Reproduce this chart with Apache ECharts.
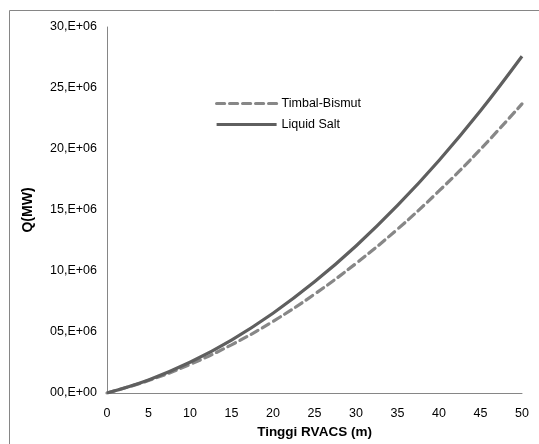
<!DOCTYPE html>
<html>
<head>
<meta charset="utf-8">
<script src="https://cdn.jsdelivr.net/npm/echarts@6/dist/echarts.min.js"></script>
<style>
html,body{margin:0;padding:0;background:#fff;}
#chart{width:539px;height:444px;}
</style>
</head>
<body>
<div id="chart"></div>
<script>
// Tinggi RVACS (m)
var heights = [0, 5, 10, 15, 20, 25, 30, 35, 40, 45, 50];
// Q in units of 1E+06
var timbalBismut = [0, 1.02, 2.34, 3.95, 5.87, 8.10, 10.62, 13.43, 16.56, 19.98, 23.7];
var liquidSalt   = [0, 1.07, 2.52, 4.34, 6.54, 9.11, 12.05, 15.37, 19.06, 23.13, 27.6];
var yTickValues  = [0, 5, 10, 15, 20, 25, 30];
var seriesNames  = ['Timbal-Bismut', 'Liquid Salt'];

function pairs(xs, ys) { return xs.map(function (x, i) { return [x, ys[i]]; }); }
function yLabel(v) {
  if (v === 0) return '00,E+00';
  var s = String(Math.round(v));
  if (s.length < 2) s = '0' + s;
  return s + ',E+06';
}

var chart = echarts.init(document.getElementById('chart'), null, {renderer: 'canvas'});
var font = 'Liberation Sans, Arial, sans-serif';
chart.setOption({
  animation: false,
  backgroundColor: '#fff',
  textStyle: {fontFamily: font},
  graphic: [{
    type: 'rect', silent: true,
    shape: {x: 9.5, y: 10.5, width: 700, height: 700},
    style: {fill: 'none', stroke: '#868686', lineWidth: 1}
  }],
  grid: {left: 107, right: 17, top: 27, bottom: 51, containLabel: false},
  legend: {
    orient: 'vertical', left: 215, top: 97, padding: 0,
    itemWidth: 60, itemHeight: 12, itemGap: 8, itemStyle: {opacity: 0},
    lineStyle: {width: 3.2},
    textStyle: {fontFamily: font, fontSize: 12.5, color: '#000'},
    data: seriesNames
  },
  xAxis: {
    type: 'value', min: 0, max: 50, interval: 5,
    name: 'Tinggi RVACS (m)', nameLocation: 'middle', nameGap: 32,
    nameTextStyle: {fontFamily: font, fontSize: 13.5, fontWeight: 'bold', color: '#000'},
    axisLine: {show: true, lineStyle: {color: '#868686', width: 1}},
    axisTick: {show: false},
    splitLine: {show: false},
    axisLabel: {fontFamily: font, fontSize: 12.5, color: '#000', margin: 14}
  },
  yAxis: {
    type: 'value', min: 0, max: 30, interval: 5,
    name: 'Q(MW)', nameLocation: 'middle', nameGap: 72, nameRotate: 90,
    nameTextStyle: {fontFamily: font, fontSize: 14, fontWeight: 'bold', color: '#000'},
    axisLine: {show: true, lineStyle: {color: '#868686', width: 1}},
    axisTick: {show: false},
    splitLine: {show: false},
    axisLabel: {fontFamily: font, fontSize: 12.5, color: '#000', margin: 10,
      formatter: function (v) { return yTickValues.indexOf(v) >= 0 ? yLabel(v) : ''; }}
  },
  series: [{
    name: seriesNames[0], type: 'line', smooth: 0.4, symbol: 'none',
    data: pairs(heights, timbalBismut),
    lineStyle: {color: '#878787', width: 3.2, type: [8, 5], cap: 'round'},
    itemStyle: {color: '#878787', opacity: 0}
  }, {
    name: seriesNames[1], type: 'line', smooth: 0.4, symbol: 'none',
    data: pairs(heights, liquidSalt),
    lineStyle: {color: '#5f5f5f', width: 3.2, type: 'solid'},
    itemStyle: {color: '#5f5f5f', opacity: 0}
  }]
});
</script>
</body>
</html>
